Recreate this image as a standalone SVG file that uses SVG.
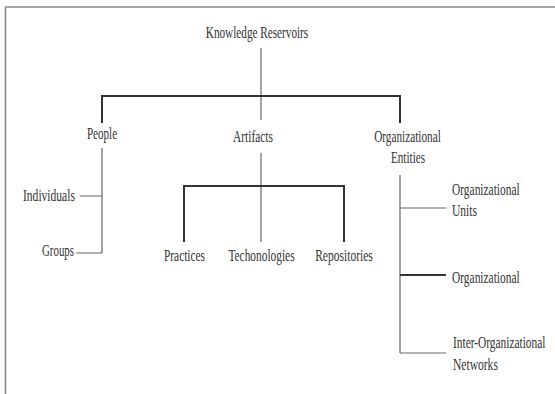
<svg xmlns="http://www.w3.org/2000/svg" width="555" height="394" viewBox="0 0 555 394">
<style>
text{font-family:"Liberation Serif","Times New Roman",serif;font-size:17px;fill:#333;text-anchor:middle}
.l{text-anchor:start}
.c{stroke:#666;stroke-width:1.2;fill:none}
.b{stroke:#333;stroke-width:2;fill:none}
</style>
<rect x="0" y="0" width="555" height="394" fill="#fff"/>
<path d="M555 7H5.5V394" stroke="#888" stroke-width="1.6" fill="none"/>
<g id="connectors">
<path class="c" d="M261 48V120"/>
<path class="b" d="M102 123V96H400V123"/>
<path class="c" d="M102 148V253M80 196H102M76 253H102"/>
<path class="c" d="M261 153V242"/>
<path class="b" d="M184 242V186H344V242"/>
<path class="c" d="M400 175V353M400 208H446M400 353H446"/>
<path class="b" d="M400 275H446" stroke-width="1.6"/>
</g>
<g id="root"><text transform="translate(257 38) scale(0.66 1)">Knowledge Reservoirs</text></g>
<g id="people"><text transform="translate(102 139) scale(0.65 1)">People</text></g>
<g id="artifacts"><text transform="translate(253 142) scale(0.67 1)">Artifacts</text></g>
<g id="orgentities"><text transform="translate(407.5 142) scale(0.663 1)">Organizational</text><text transform="translate(408 163) scale(0.655 1)">Entities</text></g>
<g id="individuals"><text class="l" transform="translate(23 201) scale(0.68 1)">Individuals</text></g>
<g id="groups"><text class="l" transform="translate(42 256) scale(0.64 1)">Groups</text></g>
<g id="practices"><text transform="translate(184.5 261) scale(0.668 1)">Practices</text></g>
<g id="technologies"><text transform="translate(261.5 261) scale(0.67 1)">Techonologies</text></g>
<g id="repositories"><text transform="translate(344 261) scale(0.68 1)">Repositories</text></g>
<g id="orgunits"><text class="l" transform="translate(452 195) scale(0.673 1)">Organizational</text><text class="l" transform="translate(452 216) scale(0.68 1)">Units</text></g>
<g id="organizational"><text class="l" transform="translate(452 283) scale(0.673 1)">Organizational</text></g>
<g id="interorg"><text class="l" transform="translate(453 348) scale(0.67 1)">Inter-Organizational</text><text class="l" transform="translate(453 370) scale(0.68 1)">Networks</text></g>
</svg>
